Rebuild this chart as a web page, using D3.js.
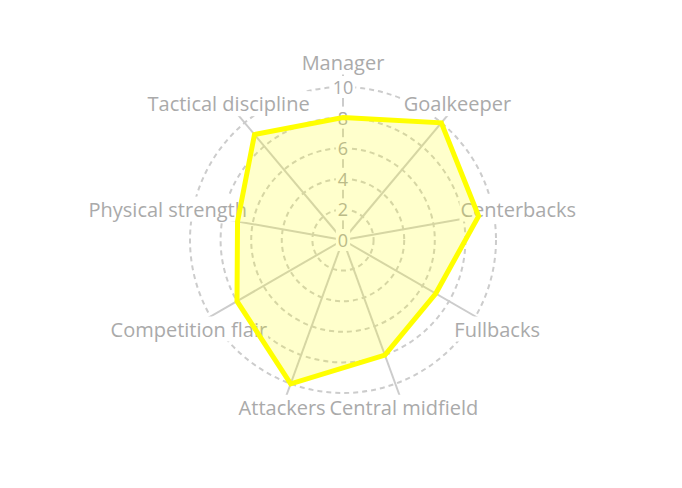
<!DOCTYPE html>
<html>
<head>
<meta charset="utf-8">
<script src="https://cdn.jsdelivr.net/npm/d3@7"></script>
<style>
  html, body { margin: 0; padding: 0; background: #fff; }
  svg text { font-family: "Open Sans", "Liberation Sans", sans-serif; }
</style>
</head>
<body>
<div id="chart"></div>
<script>
const categories = ["Manager", "Goalkeeper", "Centerbacks", "Fullbacks", "Central midfield", "Attackers", "Competition flair", "Physical strength", "Tactical discipline"];
const values = [8, 10, 9, 7, 8, 10, 8, 7, 9];
const radialTicks = [0, 2, 4, 6, 8, 10];

const width = 682;
const height = 488;
const cx = 343;
const cy = 240;
const outer = 153;
const labelRadius = 178;
const gridColor = "#cccccc";
const textColor = "#aaaaaa";

const svg = d3.select("#chart").append("svg").attr("width", width).attr("height", height);
const g = svg.append("g").attr("transform", `translate(${cx},${cy})`);

const r = d3.scaleLinear().domain([0, 10]).range([0, outer]);
const angle = d3.scaleLinear().domain([0, categories.length]).range([0, 2 * Math.PI]);

// dashed rings
g.append("g")
  .selectAll("circle")
  .data(radialTicks.filter((t) => t > 0))
  .join("circle")
  .attr("r", (d) => r(d))
  .attr("fill", "none")
  .attr("stroke", gridColor)
  .attr("stroke-width", 2)
  .attr("stroke-dasharray", "5,4");

// spokes, running out to the labels
g.append("g")
  .selectAll("line")
  .data(categories)
  .join("line")
  .attr("x1", 0)
  .attr("y1", 0)
  .attr("x2", (d, i) => d3.pointRadial(angle(i), labelRadius)[0])
  .attr("y2", (d, i) => d3.pointRadial(angle(i), labelRadius)[1])
  .attr("stroke", gridColor)
  .attr("stroke-width", 2);

function boxedText(parent, x, y, label, size, pad) {
  const grp = parent.append("g");
  const rect = grp.append("rect").attr("fill", "#fff");
  const text = grp
    .append("text")
    .attr("x", x)
    .attr("y", y)
    .attr("text-anchor", "middle")
    .attr("dominant-baseline", "central")
    .attr("fill", textColor)
    .attr("font-size", size)
    .text(label);
  const box = text.node().getBBox();
  rect
    .attr("x", box.x - pad)
    .attr("y", box.y + 1)
    .attr("width", box.width + pad * 2)
    .attr("height", box.height - 2);
}

// radial tick labels along the first spoke
const tickLayer = g.append("g");
radialTicks.forEach((t) => boxedText(tickLayer, 0, -r(t), String(t), 18, 2));

// category labels
const labelLayer = g.append("g");
categories.forEach((c, i) => {
  const [x, y] = d3.pointRadial(angle(i), labelRadius);
  boxedText(labelLayer, x, y, c, 20, 1);
});

// data polygon
const radarLine = d3
  .lineRadial()
  .angle((d, i) => angle(i))
  .radius((d) => r(d))
  .curve(d3.curveLinearClosed);

g.append("path")
  .datum(values)
  .attr("d", radarLine)
  .attr("fill", "rgba(255,255,0,0.2)")
  .attr("stroke", "#ffff00")
  .attr("stroke-width", 5)
  .attr("stroke-linejoin", "miter");
</script>
</body>
</html>
